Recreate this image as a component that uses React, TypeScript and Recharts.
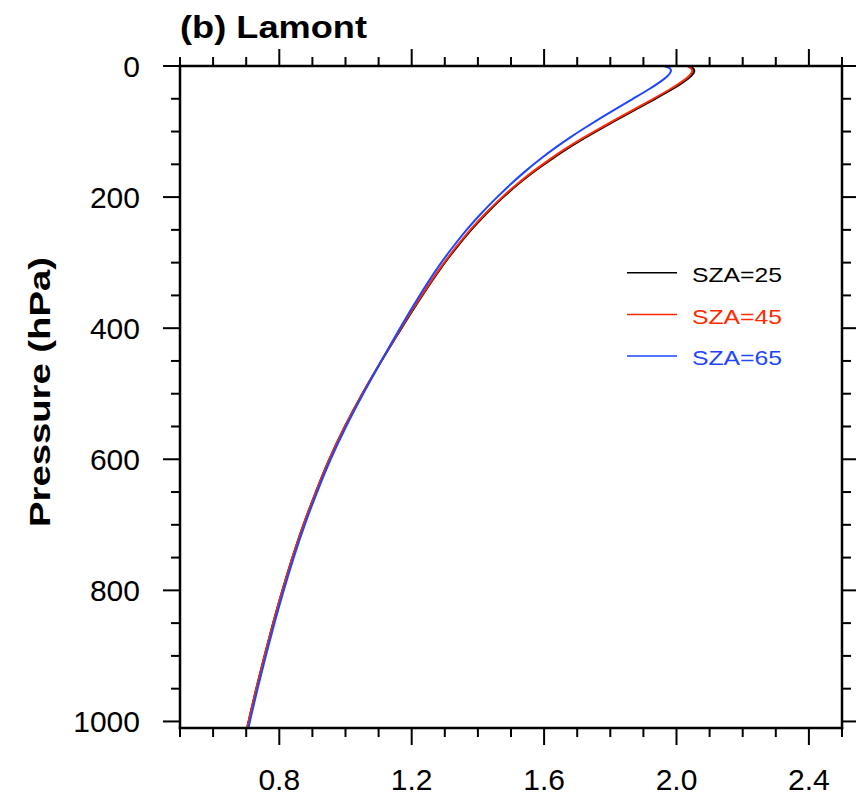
import React from "react";
import { LineChart, Line, XAxis, YAxis } from "recharts";

// pressure levels (hPa) and the three profiles
const pressure = [
  0, 3, 8, 15, 25, 35, 50, 65, 80, 95, 110, 125, 140, 160, 180, 200, 225, 250,
  275, 300, 350, 400, 450, 500, 550, 600, 650, 700, 750, 800, 850, 900, 950,
  1000, 1010,
];
const sza25 = [
  2.038, 2.051, 2.056, 2.046, 2.02, 1.989, 1.936, 1.881, 1.827, 1.773, 1.721,
  1.673, 1.628, 1.571, 1.521, 1.476, 1.425, 1.379, 1.338, 1.299, 1.231, 1.169,
  1.108, 1.05, 0.997, 0.95, 0.91, 0.872, 0.839, 0.809, 0.781, 0.755, 0.73,
  0.707, 0.703,
];
const sza45 = [
  2.032, 2.045, 2.05, 2.04, 2.014, 1.983, 1.93, 1.876, 1.822, 1.768, 1.716,
  1.668, 1.623, 1.568, 1.518, 1.473, 1.422, 1.376, 1.336, 1.297, 1.229, 1.167,
  1.108, 1.05, 0.997, 0.95, 0.91, 0.872, 0.839, 0.809, 0.781, 0.755, 0.73,
  0.707, 0.703,
];
const sza65 = [
  1.962, 1.982, 1.985, 1.975, 1.949, 1.919, 1.868, 1.818, 1.769, 1.721, 1.675,
  1.633, 1.593, 1.544, 1.499, 1.458, 1.409, 1.365, 1.326, 1.288, 1.223, 1.164,
  1.108, 1.053, 1.001, 0.954, 0.914, 0.876, 0.843, 0.813, 0.785, 0.759, 0.734,
  0.711, 0.707,
];

const seriesKeys = ["sza25", "sza45", "sza65"];
const seriesNames = ["SZA=25", "SZA=45", "SZA=65"];
const seriesColors = ["#000000", "#ff2a00", "#1f46ff"];

const xTicks = [
  0.5, 0.6, 0.7, 0.8, 0.9, 1.0, 1.1, 1.2, 1.3, 1.4, 1.5, 1.6, 1.7, 1.8, 1.9,
  2.0, 2.1, 2.2, 2.3, 2.4, 2.5,
];
const xLabels = [0.8, 1.2, 1.6, 2.0, 2.4];
const yTicks = [
  0, 50, 100, 150, 200, 250, 300, 350, 400, 450, 500, 550, 600, 650, 700, 750,
  800, 850, 900, 950, 1000,
];
const yLabels = [0, 200, 400, 600, 800, 1000];

const data = pressure.map((p, i) => ({
  p,
  sza25: sza25[i],
  sza45: sza45[i],
  sza65: sza65[i],
}));

const FONT = '"Liberation Sans", Arial, Helvetica, sans-serif';
const MAJOR = 17;
const MINOR = 9;

const inList = (list: number[], v: number) =>
  list.some((l) => Math.abs(l - v) < 1e-6);

const BottomTick = (props: any) => {
  const { x, y, payload } = props;
  const major = inList(xLabels, payload.value);
  return (
    <g>
      <line x1={x} x2={x} y1={y} y2={y + (major ? MAJOR : MINOR)} stroke="#000" strokeWidth={2} />
      {major && (
        <text x={x} y={y + 62} textAnchor="middle" fontSize={30} fontFamily={FONT} fill="#000">
          {payload.value.toFixed(1)}
        </text>
      )}
    </g>
  );
};

const TopTick = (props: any) => {
  const { x, y, payload } = props;
  const major = inList(xLabels, payload.value);
  return <line x1={x} x2={x} y1={y} y2={y - (major ? MAJOR : MINOR)} stroke="#000" strokeWidth={2} />;
};

const LeftTick = (props: any) => {
  const { x, y, payload } = props;
  const major = inList(yLabels, payload.value);
  return (
    <g>
      <line x1={x} x2={x - (major ? MAJOR : MINOR)} y1={y} y2={y} stroke="#000" strokeWidth={2} />
      {major && (
        <text x={x - 40} y={y + 10.5} textAnchor="end" fontSize={30} fontFamily={FONT} fill="#000">
          {payload.value}
        </text>
      )}
    </g>
  );
};

const RightTick = (props: any) => {
  const { x, y, payload } = props;
  const major = inList(yLabels, payload.value);
  return <line x1={x} x2={x + (major ? MAJOR : MINOR)} y1={y} y2={y} stroke="#000" strokeWidth={2} />;
};

const axisLine = { stroke: "#000", strokeWidth: 2.5, strokeLinecap: "square" as const };

export default function App() {
  return (
    <div style={{ position: "absolute", left: 0, top: 0, width: 856, height: 802, background: "#fff" }}>
      <LineChart
        layout="vertical"
        width={856}
        height={802}
        data={data}
        margin={{ top: 0, right: 0, bottom: 0, left: 0 }}
      >
        <XAxis
          xAxisId="b"
          orientation="bottom"
          type="number"
          domain={[0.5, 2.5]}
          ticks={xTicks}
          interval={0}
          allowDataOverflow
          height={74}
          tickSize={0}
          tickMargin={0}
          tickLine={false}
          axisLine={axisLine}
          tick={(p: any) => <BottomTick {...p} />}
        />
        <XAxis
          xAxisId="t"
          orientation="top"
          type="number"
          domain={[0.5, 2.5]}
          ticks={xTicks}
          interval={0}
          allowDataOverflow
          height={66}
          tickSize={0}
          tickMargin={0}
          tickLine={false}
          axisLine={axisLine}
          tick={(p: any) => <TopTick {...p} />}
        />
        <YAxis
          yAxisId="l"
          orientation="left"
          type="number"
          dataKey="p"
          domain={[0, 1010]}
          ticks={yTicks}
          interval={0}
          allowDataOverflow
          width={180}
          tickSize={0}
          tickMargin={0}
          tickLine={false}
          axisLine={axisLine}
          tick={(p: any) => <LeftTick {...p} />}
        />
        <YAxis
          yAxisId="r"
          orientation="right"
          type="number"
          dataKey="p"
          domain={[0, 1010]}
          ticks={yTicks}
          interval={0}
          allowDataOverflow
          width={14}
          tickSize={0}
          tickMargin={0}
          tickLine={false}
          axisLine={axisLine}
          tick={(p: any) => <RightTick {...p} />}
        />
        {seriesKeys.map((k, i) => (
          <Line
            key={k}
            xAxisId="b"
            yAxisId="l"
            dataKey={k}
            name={seriesNames[i]}
            type="basis"
            stroke={seriesColors[i]}
            strokeWidth={2}
            dot={false}
            isAnimationActive={false}
          />
        ))}
      </LineChart>
      <svg
        width={856}
        height={802}
        style={{ position: "absolute", left: 0, top: 0, pointerEvents: "none" }}
        fontFamily={FONT}
      >
        <text x={180} y={38} fontSize={32} fontWeight="bold" textLength={187} lengthAdjust="spacingAndGlyphs">
          (b) Lamont
        </text>
        <text
          transform="translate(50,392) rotate(-90)"
          textAnchor="middle"
          fontSize={29}
          fontWeight="bold"
          textLength={270}
          lengthAdjust="spacingAndGlyphs"
        >
          Pressure (hPa)
        </text>
        {seriesNames.map((n, i) => (
          <g key={n}>
            <line x1={627} x2={677} y1={272.7 + 41.7 * i} y2={272.7 + 41.7 * i} stroke={seriesColors[i]} strokeWidth={1.5} />
            <text x={692} y={282 + 41.7 * i} fontSize={21} fill={seriesColors[i]} textLength={90} lengthAdjust="spacingAndGlyphs">
              {n}
            </text>
          </g>
        ))}
      </svg>
    </div>
  );
}
